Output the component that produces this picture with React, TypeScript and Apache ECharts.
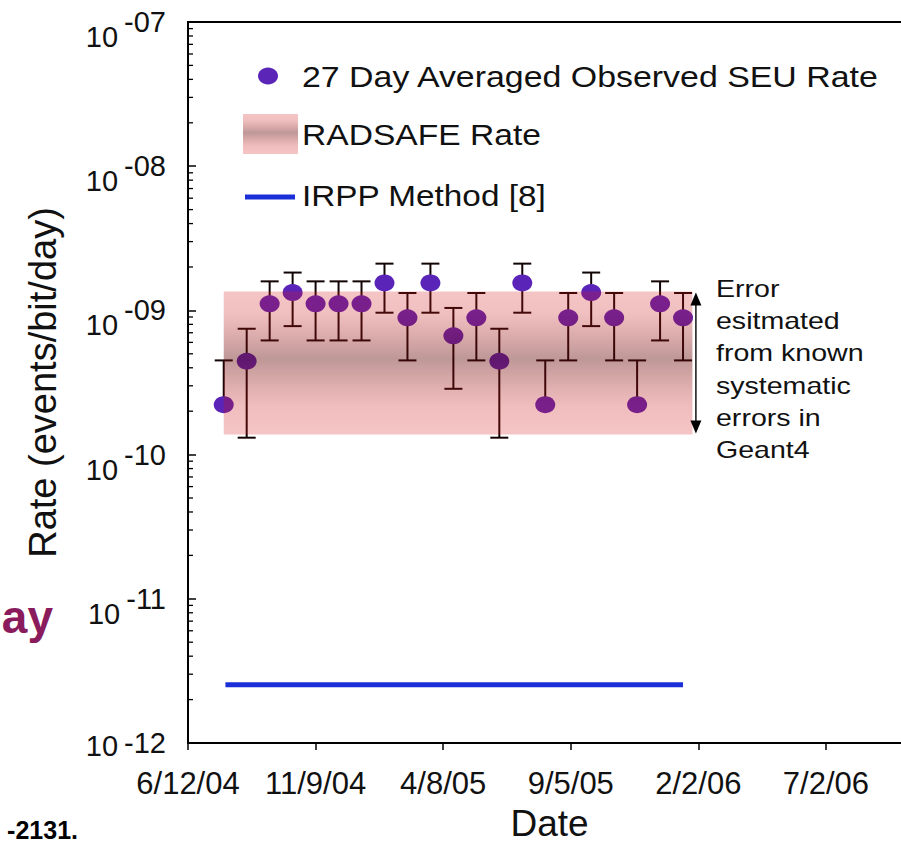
import React, { useEffect, useRef } from "react";
import * as echarts from "echarts";

// ---------- data ----------
const axisStartDate = "2004-06-12";
const xAxisEndDay = 850;
const xTickIntervalDays = 150;

const pointDates = [
  "2004-07-24", "2004-08-20", "2004-09-16", "2004-10-13", "2004-11-09",
  "2004-12-06", "2005-01-02", "2005-01-29", "2005-02-25", "2005-03-24",
  "2005-04-20", "2005-05-17", "2005-06-13", "2005-07-10", "2005-08-06",
  "2005-09-02", "2005-09-29", "2005-10-26", "2005-11-22", "2005-12-19",
  "2006-01-15",
];
const observedRates = [
  2.22e-10, 4.44e-10, 1.11e-9, 1.33e-9, 1.11e-9,
  1.11e-9, 1.11e-9, 1.55e-9, 8.88e-10, 1.55e-9,
  6.66e-10, 8.88e-10, 4.44e-10, 1.55e-9, 2.22e-10,
  8.88e-10, 1.33e-9, 8.88e-10, 2.22e-10, 1.11e-9,
  8.88e-10,
];
const errorUpper = [
  4.5e-10, 7.46e-10, 1.59e-9, 1.83e-9, 1.59e-9,
  1.59e-9, 1.59e-9, 2.11e-9, 1.32e-9, 2.11e-9,
  1.04e-9, 1.32e-9, 7.46e-10, 2.11e-9, 4.5e-10,
  1.32e-9, 1.83e-9, 1.32e-9, 4.5e-10, 1.59e-9,
  1.32e-9,
];
const errorLower: (number | null)[] = [
  null, 1.31e-10, 6.19e-10, 7.78e-10, 6.19e-10,
  6.19e-10, 6.19e-10, 9.64e-10, 4.5e-10, 9.64e-10,
  2.86e-10, 4.5e-10, 1.31e-10, 9.64e-10, null,
  4.5e-10, 7.78e-10, 4.5e-10, null, 6.19e-10,
  4.5e-10,
];

const radsafeStart = "2004-07-24";
const radsafeEnd = "2006-01-26";
const radsafeLow = 1.38e-10;
const radsafeHigh = 1.35e-9;

const irppStart = "2004-07-26";
const irppEnd = "2006-01-15";
const irppRate = 2.53e-12;

const yMin = 1e-12;
const yMax = 1e-7;

const legendLabels = [
  "27 Day Averaged Observed SEU Rate",
  "RADSAFE Rate",
  "IRPP Method [8]",
];
const annotationLines = [
  "Error",
  "esitmated",
  "from known",
  "systematic",
  "errors in",
  "Geant4",
];
const xAxisTitle = "Date";
const yAxisTitle = "Rate (events/bit/day)";

// ---------- helpers ----------
const DAY = 86400000;
const startMs = Date.parse(axisStartDate + "T00:00:00Z");
const dayOf = (s: string) => (Date.parse(s + "T00:00:00Z") - startMs) / DAY;
const fmtDate = (d: number) => {
  const dt = new Date(startMs + Math.round(d) * DAY);
  return `${dt.getUTCMonth() + 1}/${dt.getUTCDate()}/${String(dt.getUTCFullYear()).slice(2)}`;
};

const FONT = "'Liberation Sans', Arial, Helvetica, sans-serif";
const TEXT = "#111";

const bandGradient = () =>
  new echarts.graphic.LinearGradient(0, 0, 0, 1, [
    { offset: 0, color: "rgba(215,20,20,0.25)" },
    { offset: 0.15, color: "rgba(200,20,20,0.27)" },
    { offset: 0.47, color: "rgba(100,8,8,0.42)" },
    { offset: 0.8, color: "rgba(200,20,20,0.28)" },
    { offset: 1, color: "rgba(215,20,20,0.25)" },
  ]);

export default function App() {
  const ref = useRef<HTMLDivElement>(null);

  useEffect(() => {
    if (!ref.current) return;
    const chart = echarts.init(ref.current, undefined, { renderer: "svg" });

    const pointDays = pointDates.map(dayOf);
    const scatterData = pointDays.map((d, i) => [d, observedRates[i]]);
    const errorData = pointDays.map((d, i) => [
      d,
      errorUpper[i],
      errorLower[i] == null ? observedRates[i] : (errorLower[i] as number),
      errorLower[i] == null ? 0 : 1,
    ]);

    const option: any = {
      animation: false,
      backgroundColor: "#fff",
      textStyle: { fontFamily: FONT },
      grid: {
        left: 188,
        top: 22,
        right: -10,
        bottom: 100,
        containLabel: false,
        outerBoundsMode: "none",
        show: true,
        borderColor: "#000",
        borderWidth: 2,
        backgroundColor: "transparent",
      },
      xAxis: {
        type: "value",
        min: 0,
        max: xAxisEndDay,
        interval: xTickIntervalDays,
        name: xAxisTitle,
        nameLocation: "middle",
        nameGap: 62,
        nameTextStyle: { fontSize: 37, color: TEXT, fontFamily: FONT },
        axisLine: { lineStyle: { color: "#000", width: 2 } },
        axisTick: { inside: false, length: 7, lineStyle: { color: "#000", width: 1.5 } },
        axisLabel: {
          fontSize: 31,
          color: TEXT,
          fontFamily: FONT,
          margin: 25,
          showMaxLabel: false,
          formatter: (v: number) => fmtDate(v),
        },
        splitLine: { show: false },
      },
      yAxis: {
        type: "log",
        logBase: 10,
        min: yMin,
        max: yMax,
        splitNumber: 5,
        name: yAxisTitle,
        nameLocation: "middle",
        nameGap: 126,
        nameRotate: 90,
        nameTextStyle: { fontSize: 38, color: TEXT, fontFamily: FONT },
        axisLine: { lineStyle: { color: "#000", width: 2 } },
        axisTick: { inside: true, length: 8, lineStyle: { color: "#000", width: 1.5 } },
        axisLabel: {
          margin: 22,
          color: TEXT,
          fontFamily: FONT,
          formatter: (v: number) => {
            const e = Math.round(Math.log10(v));
            const s = (e < 0 ? "-" : "") + String(Math.abs(e)).padStart(2, "0");
            return e === -12 ? `{bl|10}{sl|${s}}` : `{b|10}{s|${s}}`;
          },
          rich: {
            b: { fontSize: 29, color: TEXT, fontFamily: FONT, padding: [30, 0, 0, 0] },
            s: { fontSize: 29, color: TEXT, fontFamily: FONT, padding: [0, 0, 0, 6] },
            bl: { fontSize: 29, color: TEXT, fontFamily: FONT, padding: [6, 0, 0, 0] },
            sl: { fontSize: 29, color: TEXT, fontFamily: FONT, padding: [0, 0, 0, 6] },
          },
        },
        splitLine: { show: false },
      },
      series: [
        {
          // log minor ticks on the y axis
          type: "custom",
          silent: true,
          z: 5,
          data: [[0, yMin]],
          renderItem: (params: any, api: any) => {
            const x0 = params.coordSys.x;
            const children: any[] = [];
            for (let k = -12; k < -7; k++) {
              for (let m = 2; m <= 9; m++) {
                const y = api.coord([0, m * Math.pow(10, k)])[1];
                children.push({
                  type: "line",
                  shape: { x1: x0, y1: y, x2: x0 + 5, y2: y },
                  style: { stroke: "#000", lineWidth: 1.3 },
                });
              }
            }
            return { type: "group", children };
          },
        },
        {
          name: "errors",
          type: "custom",
          silent: true,
          z: 2,
          data: errorData,
          encode: { x: 0, y: [1, 2] },
          renderItem: (_p: any, api: any) => {
            const x = api.value(0);
            const top = api.coord([x, api.value(1)]);
            const bot = api.coord([x, api.value(2)]);
            const hasLow = api.value(3) === 1;
            const hw = 9;
            const st = { stroke: "#120404", lineWidth: 2 };
            const children: any[] = [
              { type: "line", shape: { x1: top[0], y1: top[1], x2: bot[0], y2: bot[1] }, style: st },
              { type: "line", shape: { x1: top[0] - hw, y1: top[1], x2: top[0] + hw, y2: top[1] }, style: st },
            ];
            if (hasLow) {
              children.push({
                type: "line",
                shape: { x1: bot[0] - hw, y1: bot[1], x2: bot[0] + hw, y2: bot[1] },
                style: st,
              });
            }
            return { type: "group", children };
          },
        },
        {
          name: legendLabels[0],
          type: "scatter",
          z: 3,
          symbol: "circle",
          symbolSize: [20, 17],
          itemStyle: { color: "#5b24b8", opacity: 1 },
          data: scatterData,
        },
        {
          name: legendLabels[1],
          type: "custom",
          silent: true,
          z: 4,
          data: [[dayOf(radsafeStart), dayOf(radsafeEnd), radsafeLow, radsafeHigh]],
          encode: { x: [0, 1], y: [2, 3] },
          renderItem: (_p: any, api: any) => {
            const p1 = api.coord([api.value(0), api.value(3)]);
            const p2 = api.coord([api.value(1), api.value(2)]);
            const ax = p2[0] + 3.5;
            return {
              type: "group",
              children: [
                {
                  type: "rect",
                  shape: { x: p1[0], y: p1[1], width: p2[0] - p1[0], height: p2[1] - p1[1] },
                  style: { fill: bandGradient() },
                },
                {
                  type: "line",
                  shape: { x1: ax, y1: p1[1] + 8, x2: ax, y2: p2[1] - 8 },
                  style: { stroke: "#111", lineWidth: 1.5 },
                },
                {
                  type: "polygon",
                  shape: { points: [[ax, p1[1] + 1], [ax - 5.5, p1[1] + 14], [ax + 5.5, p1[1] + 14]] },
                  style: { fill: "#000" },
                },
                {
                  type: "polygon",
                  shape: { points: [[ax, p2[1] - 1], [ax - 5.5, p2[1] - 14], [ax + 5.5, p2[1] - 14]] },
                  style: { fill: "#000" },
                },
              ],
            };
          },
        },
        {
          name: legendLabels[2],
          type: "line",
          z: 3,
          symbol: "none",
          lineStyle: { color: "#1a2fd8", width: 5, cap: "butt" },
          data: [
            [dayOf(irppStart), irppRate],
            [dayOf(irppEnd), irppRate],
          ],
        },
      ],
      graphic: [
        // legend
        {
          type: "ellipse",
          shape: { cx: 268, cy: 76, rx: 10, ry: 8.5 },
          style: { fill: "#5b25b8" },
        },
        {
          type: "text",
          x: 302,
          y: 77,
          scaleX: 1.13,
          style: {
            text: legendLabels[0],
            font: `30px ${FONT}`,
            fill: TEXT,
            textAlign: "left",
            align: "left",
            textVerticalAlign: "middle",
            verticalAlign: "middle",
          },
        },
        {
          type: "rect",
          shape: { x: 243, y: 114, width: 55, height: 40 },
          style: { fill: bandGradient() },
        },
        {
          type: "text",
          x: 302,
          y: 135,
          scaleX: 1.12,
          style: {
            text: legendLabels[1],
            font: `30px ${FONT}`,
            fill: TEXT,
            textAlign: "left",
            align: "left",
            textVerticalAlign: "middle",
            verticalAlign: "middle",
          },
        },
        {
          type: "line",
          shape: { x1: 245, y1: 197, x2: 295, y2: 197 },
          style: { stroke: "#1a2fd8", lineWidth: 5 },
        },
        {
          type: "text",
          x: 302,
          y: 196,
          scaleX: 1.11,
          style: {
            text: legendLabels[2],
            font: `30px ${FONT}`,
            fill: TEXT,
            textAlign: "left",
            align: "left",
            textVerticalAlign: "middle",
            verticalAlign: "middle",
          },
        },
        // annotation
        {
          type: "text",
          x: 716,
          y: 272.5,
          scaleX: 1.19,
          style: {
            text: annotationLines.join("\n"),
            font: `24px ${FONT}`,
            lineHeight: 32.3,
            fill: TEXT,
            textAlign: "left",
            align: "left",
            textVerticalAlign: "top",
            verticalAlign: "top",
          },
        },
        // cropped slide fragments
        {
          type: "text",
          x: 53,
          y: 640,
          style: {
            text: "ay",
            font: `bold 46px ${FONT}`,
            fill: "#8a1b5c",
            textAlign: "right",
            align: "right",
            textVerticalAlign: "bottom",
            verticalAlign: "bottom",
          },
        },
        {
          type: "text",
          x: 78,
          y: 830,
          style: {
            text: "-2131.",
            font: `bold 25px ${FONT}`,
            fill: "#000",
            textAlign: "right",
            align: "right",
            textVerticalAlign: "middle",
            verticalAlign: "middle",
          },
        },
      ],
    };

    chart.setOption(option);
    return () => chart.dispose();
  }, []);

  return (
    <div
      ref={ref}
      style={{ position: "fixed", left: 0, top: 0, width: 901, height: 843, background: "#fff" }}
    />
  );
}
